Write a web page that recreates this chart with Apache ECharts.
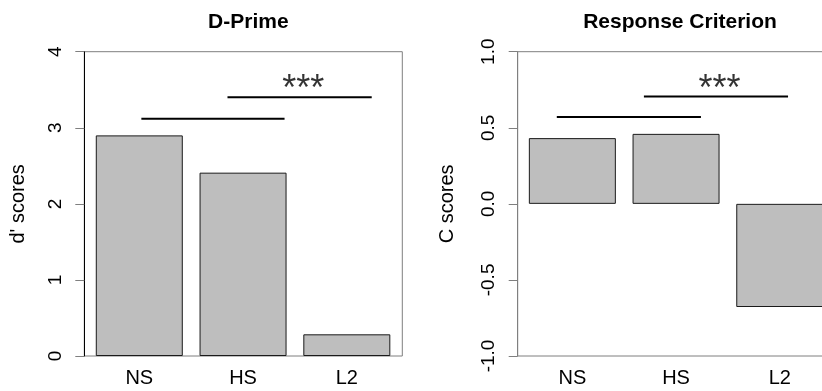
<!DOCTYPE html>
<html>
<head>
<meta charset="utf-8">
<script src="https://cdn.jsdelivr.net/npm/echarts@6/dist/echarts.min.js"></script>
<style>
  html, body { margin: 0; padding: 0; background: #fff; }
  #chart { width: 822px; height: 391px; }
</style>
</head>
<body>
<div id="chart"></div>
<script>
// ---- Data ----
const categories = ['NS', 'HS', 'L2'];
const dprimeValues = [2.90, 2.41, 0.285];
const criterionValues = [0.432, 0.46, -0.678];

const dprimeTitle = 'D-Prime';
const criterionTitle = 'Response Criterion';
const dprimeAxisName = "d' scores";
const criterionAxisName = 'C scores';

const dprimeTicks = [0, 1, 2, 3, 4];
const criterionTicks = [-1.0, -0.5, 0.0, 0.5, 1.0];

// significance brackets: [xStart, xEnd, y] in category-band units (0..3)
const dprimeSigLines = [[0.52, 1.90, 3.12], [1.35, 2.74, 3.40]];
const criterionSigLines = [[0.35, 1.74, 0.57], [1.19, 2.58, 0.706]];
// significance stars: [x, y]
const dprimeStars = [[2.08, 3.50]];
const criterionStars = [[1.92, 0.745]];
const starText = '***';

// ---- Chart ----
const FONT = 'Liberation Sans, Arial, sans-serif';
const chart = echarts.init(document.getElementById('chart'), null, { renderer: 'canvas' });

const TOP = 51.7, HEIGHT = 304.3;

function sigSeries(lines, stars, xAxisIndex, yAxisIndex) {
  const out = [];
  lines.forEach(l => {
    out.push({
      type: 'line', xAxisIndex, yAxisIndex,
      data: [[l[0], l[2]], [l[1], l[2]]],
      symbol: 'none', silent: true, animation: false,
      lineStyle: { color: '#000', width: 2 }, z: 5
    });
  });
  out.push({
    type: 'scatter', xAxisIndex, yAxisIndex,
    data: stars, symbolSize: 0, silent: true, animation: false,
    label: {
      show: true, position: 'inside', formatter: starText,
      color: '#000', fontSize: 36, fontFamily: FONT
    }, z: 6
  });
  return out;
}

// grids 0,1: outer boxes with visible y axes; grids 2,3: inner grids holding the bars
const grids = [
  { left: 84.3, top: TOP, width: 318, height: HEIGHT, show: true, borderColor: '#7f7f7f', borderWidth: 1, backgroundColor: 'transparent' },
  { left: 517.7, top: TOP, width: 318, height: HEIGHT, show: true, borderColor: '#7f7f7f', borderWidth: 1, backgroundColor: 'transparent' },
  { left: 87.4, top: TOP, width: 311.3, height: HEIGHT },
  { left: 520.5, top: TOP, width: 311.1, height: HEIGHT }
].map(g => Object.assign(g, { outerBoundsMode: 'none', containLabel: false }));

function catAxis(gridIndex) {
  return {
    type: 'category', gridIndex, data: categories, boundaryGap: true,
    axisLine: { show: false }, axisTick: { show: false },
    axisLabel: { color: '#000', fontSize: 20, fontFamily: FONT, margin: 12 },
    splitLine: { show: false }
  };
}
function hiddenX(gridIndex) {
  return { type: 'value', gridIndex, min: 0, max: 3, show: false };
}
function valAxis(gridIndex, ticks, name, nameGap, lineColor, fmt) {
  return {
    type: 'value', gridIndex,
    min: ticks[0], max: ticks[ticks.length - 1],
    interval: ticks[1] - ticks[0],
    name, nameLocation: 'middle', nameGap, nameRotate: 90,
    nameTextStyle: { color: '#000', fontSize: 20, fontFamily: FONT },
    axisLine: { show: true, onZero: false, lineStyle: { color: lineColor, width: 1 } },
    axisTick: { show: true, length: 9, lineStyle: { color: '#7f7f7f' } },
    axisLabel: { rotate: 90, margin: 19, color: '#000', fontSize: 19, fontFamily: FONT, formatter: fmt },
    splitLine: { show: false }
  };
}
function hiddenY(gridIndex, ticks) {
  return {
    type: 'value', gridIndex, show: false,
    min: ticks[0], max: ticks[ticks.length - 1], interval: ticks[1] - ticks[0]
  };
}

const option = {
  animation: false,
  backgroundColor: '#fff',
  title: [
    { text: dprimeTitle, left: 243.3, top: 7, textAlign: 'center',
      textStyle: { fontSize: 21, fontWeight: 'bold', color: '#000', fontFamily: FONT } },
    { text: criterionTitle, left: 675, top: 7, textAlign: 'center',
      textStyle: { fontSize: 21, fontWeight: 'bold', color: '#000', fontFamily: FONT } }
  ],
  grid: grids,
  xAxis: [
    { type: 'value', gridIndex: 0, show: false, min: 0, max: 1 },
    { type: 'value', gridIndex: 1, show: false, min: 0, max: 1 },
    catAxis(2), catAxis(3), hiddenX(2), hiddenX(3)
  ],
  yAxis: [
    valAxis(0, dprimeTicks, dprimeAxisName, 56, '#000', v => String(v)),
    valAxis(1, criterionTicks, criterionAxisName, 60, '#7f7f7f', v => v.toFixed(1)),
    hiddenY(2, dprimeTicks),
    hiddenY(3, criterionTicks)
  ],
  series: [
    {
      type: 'bar', xAxisIndex: 2, yAxisIndex: 2, data: dprimeValues,
      barWidth: 87,
      itemStyle: { color: '#bebebe', borderColor: '#1a1a1a', borderWidth: 1 }
    },
    {
      type: 'bar', xAxisIndex: 3, yAxisIndex: 3, data: criterionValues,
      barWidth: 87,
      itemStyle: { color: '#bebebe', borderColor: '#1a1a1a', borderWidth: 1 }
    },
    ...sigSeries(dprimeSigLines, dprimeStars, 4, 2),
    ...sigSeries(criterionSigLines, criterionStars, 5, 3)
  ]
};
chart.setOption(option);
</script>
</body>
</html>
